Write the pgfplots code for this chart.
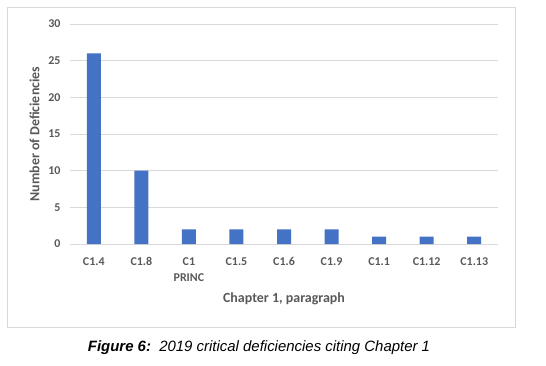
\documentclass[border=0pt]{standalone}
\usepackage{pgfplots}
\pgfplotsset{compat=1.18}
\usepackage{fontspec}
\setmainfont{Liberation Sans}
\newfontfamily\calibri{Carlito}
\newcommand\tf{\calibri\bfseries\fontsize{12}{16}\selectfont}
\definecolor{barblue}{HTML}{4472C4}
\definecolor{txtgray}{HTML}{595959}
\definecolor{gridgray}{HTML}{D9D9D9}
\begin{document}
\begin{tikzpicture}[x=1bp,y=1bp]
\path[use as bounding box] (0,0) rectangle (546,-365);
\draw[gridgray, line width=0.8bp] (7,-7) rectangle (515,-327);
\begin{axis}[
  at={(70bp,-244bp)}, anchor=south west,
  scale only axis, width=428bp, height=220bp,
  ymin=0, ymax=30, ytick={0,5,...,30},
  xmin=-0.5, xmax=8.5,
  xtick={0,...,8},
  xticklabels={C1.4,C1.8,{C1\\PRINC},C1.5,C1.6,C1.9,C1.1,C1.12,C1.13},
  /pgf/number format/assume math mode=true,
  xticklabel style={align=center, font=\tf, text=txtgray, yshift=-10bp},
  yticklabel style={font=\tf, text=txtgray, xshift=-6bp},
  axis x line*=bottom, axis y line*=left,
  x axis line style={gridgray},
  y axis line style={draw=none},
  major tick length=0pt,
  ymajorgrids, grid style={gridgray, line width=0.6bp},
  xlabel={Chapter 1, paragraph},
  ylabel={Number of Deficiencies},
  label style={font=\calibri\bfseries\fontsize{14}{16}\selectfont, text=txtgray},
  xlabel style={yshift=-4bp},
  ylabel style={yshift=2bp},
  ybar, bar width=14bp,
]
\addplot[fill=barblue, draw=none] coordinates {(0,26) (1,10) (2,2) (3,2) (4,2) (5,2) (6,1) (7,1) (8,1)};
\end{axis}
\node at (259,-348) {\fontsize{15}{18}\selectfont\itshape\textbf{Figure 6:}\ \ 2019 critical deficiencies citing Chapter 1};
\end{tikzpicture}
\end{document}
